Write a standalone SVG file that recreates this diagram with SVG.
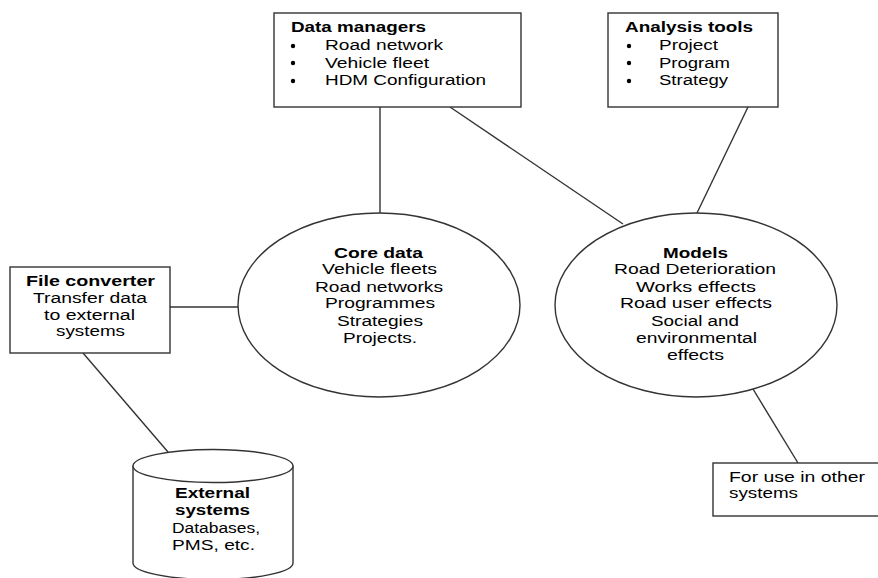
<svg xmlns="http://www.w3.org/2000/svg" width="878" height="578" viewBox="0 0 878 578">
<style>
.shape{fill:#fff;stroke:#333;stroke-width:1.4}
.conn line{stroke:#333;stroke-width:1.4}
text{font-family:"Liberation Sans",Arial,sans-serif;font-size:14px;fill:#000}
.b{font-weight:bold}
.dot{fill:#000}
</style>
<rect width="878" height="578" fill="#fff"/>
<g class="conn" id="connectors">
<line x1="380" y1="107" x2="380" y2="213"/>
<line x1="450" y1="107" x2="623" y2="224"/>
<line x1="748" y1="107" x2="697" y2="213"/>
<line x1="170" y1="307" x2="238" y2="307"/>
<line x1="83" y1="353" x2="168" y2="452"/>
<line x1="753" y1="389" x2="798" y2="463"/>
</g>
<g id="data-managers">
<rect class="shape" x="274" y="13" width="247" height="94"/>
<text class="b" x="291" y="32" textLength="135" lengthAdjust="spacingAndGlyphs">Data managers</text>
<circle class="dot" cx="293" cy="46" r="2.2"/>
<circle class="dot" cx="293" cy="63" r="2.2"/>
<circle class="dot" cx="293" cy="81" r="2.2"/>
<text x="325" y="50" textLength="118" lengthAdjust="spacingAndGlyphs">Road network</text>
<text x="325" y="68" textLength="104" lengthAdjust="spacingAndGlyphs">Vehicle fleet</text>
<text x="325" y="85" textLength="161" lengthAdjust="spacingAndGlyphs">HDM Configuration</text>
</g>
<g id="analysis-tools">
<rect class="shape" x="608" y="13" width="170" height="94"/>
<text class="b" x="625" y="32" textLength="128" lengthAdjust="spacingAndGlyphs">Analysis tools</text>
<circle class="dot" cx="629" cy="46" r="2.2"/>
<circle class="dot" cx="629" cy="63" r="2.2"/>
<circle class="dot" cx="629" cy="81" r="2.2"/>
<text x="659" y="50" textLength="59" lengthAdjust="spacingAndGlyphs">Project</text>
<text x="659" y="68" textLength="71" lengthAdjust="spacingAndGlyphs">Program</text>
<text x="659" y="85" textLength="69" lengthAdjust="spacingAndGlyphs">Strategy</text>
</g>
<g id="file-converter">
<rect class="shape" x="10" y="267" width="160" height="86"/>
<text class="b" x="26" y="286" textLength="129" lengthAdjust="spacingAndGlyphs">File converter</text>
<text x="33" y="303" textLength="114" lengthAdjust="spacingAndGlyphs">Transfer data</text>
<text x="44" y="320" textLength="91" lengthAdjust="spacingAndGlyphs">to external</text>
<text x="56" y="336" textLength="69" lengthAdjust="spacingAndGlyphs">systems</text>
</g>
<g id="core-data">
<ellipse class="shape" cx="379" cy="305" rx="141" ry="92"/>
<text class="b" x="334" y="258" textLength="89" lengthAdjust="spacingAndGlyphs">Core data</text>
<text x="322" y="274" textLength="115" lengthAdjust="spacingAndGlyphs">Vehicle fleets</text>
<text x="315" y="292" textLength="128" lengthAdjust="spacingAndGlyphs">Road networks</text>
<text x="325" y="308" textLength="110" lengthAdjust="spacingAndGlyphs">Programmes</text>
<text x="337" y="326" textLength="86" lengthAdjust="spacingAndGlyphs">Strategies</text>
<text x="343" y="343" textLength="74" lengthAdjust="spacingAndGlyphs">Projects.</text>
</g>
<g id="models">
<ellipse class="shape" cx="696" cy="305" rx="141" ry="92"/>
<text class="b" x="663" y="258" textLength="65" lengthAdjust="spacingAndGlyphs">Models</text>
<text x="614" y="274" textLength="162" lengthAdjust="spacingAndGlyphs">Road Deterioration</text>
<text x="636" y="292" textLength="120" lengthAdjust="spacingAndGlyphs">Works effects</text>
<text x="620" y="308" textLength="152" lengthAdjust="spacingAndGlyphs">Road user effects</text>
<text x="651" y="326" textLength="88" lengthAdjust="spacingAndGlyphs">Social and</text>
<text x="636" y="343" textLength="121" lengthAdjust="spacingAndGlyphs">environmental</text>
<text x="667" y="360" textLength="57" lengthAdjust="spacingAndGlyphs">effects</text>
</g>
<g id="external-systems">
<path class="shape" d="M133,466 L133,563 A80,16.5 0 0 0 293,563 L293,466"/>
<ellipse class="shape" cx="213" cy="466" rx="80" ry="16.5"/>
<text class="b" x="175" y="498" textLength="75" lengthAdjust="spacingAndGlyphs">External</text>
<text class="b" x="175" y="515" textLength="75" lengthAdjust="spacingAndGlyphs">systems</text>
<text x="172" y="533" textLength="88" lengthAdjust="spacingAndGlyphs">Databases,</text>
<text x="172" y="550" textLength="83" lengthAdjust="spacingAndGlyphs">PMS, etc.</text>
</g>
<g id="other-systems">
<rect class="shape" x="713" y="463" width="175" height="53"/>
<text x="729" y="482" textLength="136" lengthAdjust="spacingAndGlyphs">For use in other</text>
<text x="729" y="498" textLength="69" lengthAdjust="spacingAndGlyphs">systems</text>
</g>
</svg>
